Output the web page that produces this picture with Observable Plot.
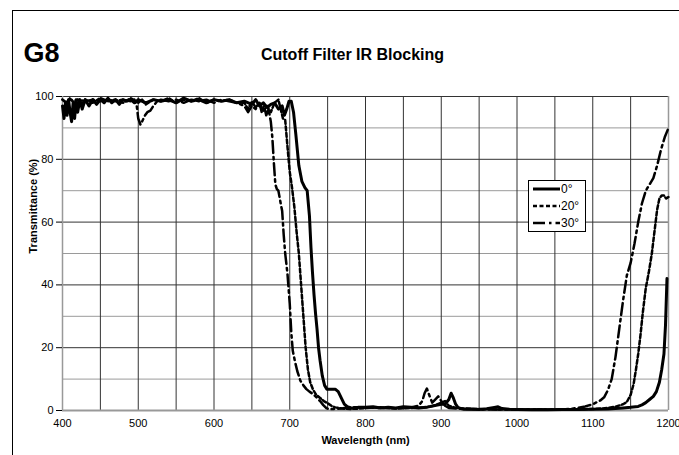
<!DOCTYPE html>
<html>
<head>
<meta charset="utf-8">
<script src="https://cdn.jsdelivr.net/npm/d3@7"></script>
<script src="https://cdn.jsdelivr.net/npm/@observablehq/plot@0.6"></script>
<style>
  html, body { margin: 0; padding: 0; background: #fff; }
  #wrap { position: relative; width: 679px; height: 455px; overflow: hidden; background: #fff; font-family: "Liberation Sans", Arial, sans-serif; color: #000; }
  #frame { position: absolute; left: 12px; top: 10px; width: 700px; height: 460px; border-top: 1.5px solid #000; border-left: 1.5px solid #000; }
  #chart { position: absolute; left: 0; top: 0; }
  #legend { position: absolute; left: 528px; top: 180px; width: 56px; height: 50px; border: 1px solid #000; background: #fff; font-size: 12px; }
  .row { position: absolute; left: 4px; height: 14px; display: flex; align-items: center; }
  .row span { margin-left: 1px; }
</style>
</head>
<body>
<div id="wrap">
  <div id="frame"></div>
  <div id="chart"></div>
  <div id="legend"></div>
</div>
<script>
// ---- data ----
const seriesNames = ["0°", "20°", "30°"];
const xTicks = [400, 500, 600, 700, 800, 900, 1000, 1100, 1200];
const yTicks = [0, 20, 40, 60, 80, 100];
const titleMain = "Cutoff Filter IR Blocking";
const titleCode = "G8";
const xLabel = "Wavelength (nm)";
const yLabel = "Transmittance (%)";

const wl0 = [400,402,404,406,408,410,412,414,416,418,420,423,426,430,435,440,445,450,455,460,465,470,475,480,485,490,495,500,510,520,530,540,550,560,570,580,590,600,610,620,630,640,650,655,660,665,670,675,680,685,690,693,696,699,702,705,708,712,716,720,723,726,728,730,732,734,736,738,740,743,746,749,755,760,764,768,772,776,780,785,790,800,810,820,830,840,850,860,870,880,890,900,905,910,913,916,919,922,926,930,940,950,960,970,975,980,990,1000,1020,1040,1060,1080,1100,1120,1140,1150,1160,1165,1170,1175,1180,1184,1188,1191,1194,1196,1198,1200];
const t0  = [97,93,98,94,99,95,92,98,93,99,95,99,96,99,97,99,97.5,99,98,99.5,98,99,97.5,99,98.5,99,98,99,98,99,98.5,99,98,99.5,98.5,99,98,99,98.5,99,98,98.5,97.5,99,97,98,96.5,97.5,98,96,97,94,96,98.5,98.5,95,88,78,73,71,70,62,52,44,37,31,26,20,16,11,8,6.8,6.8,6.8,6,4,2,1.2,0.9,0.8,1,1,1.2,0.8,1,0.8,1.2,1,0.8,1,1.5,2,2,3.5,5.5,4,2,1,0.6,0.4,0.5,0.3,0.6,1,1.2,0.6,0.4,0.3,0.2,0.2,0.3,0.3,0.4,0.5,0.8,1,1.3,1.8,2.5,3.5,4.5,6,9,13,18,27,42];

const wl20 = [400,405,410,415,420,425,430,440,450,460,470,480,490,500,505,510,520,530,540,550,560,570,580,590,600,610,620,630,640,645,650,655,660,665,670,675,680,685,688,691,694,697,700,703,706,709,712,715,718,721,724,727,731,735,740,745,750,755,760,770,780,790,800,820,840,860,880,890,900,905,910,920,940,960,980,1000,1020,1040,1060,1080,1100,1110,1120,1130,1140,1145,1150,1154,1157,1160,1163,1166,1170,1174,1178,1182,1185,1188,1191,1194,1197,1200];
const t20  = [99,98,99.5,98,99,97.5,99,98,99.5,98.5,99,98,99.5,98,99,97.5,99,98.5,99.5,98,99,98.5,99.5,98,99,98.5,99,98,98,96,98.5,96.5,98,95.5,97,95,98,99,96,93,92.5,84,76,71,65,57,50,40,30,20,13,9,6.5,5,4,3,2.3,1.5,1,0.6,0.5,0.6,0.8,1,0.6,0.8,1,1.5,2.5,3,1.5,0.8,0.5,0.4,0.3,0.3,0.3,0.3,0.3,0.4,0.5,0.6,0.8,1.2,2,2.7,5,8.5,13,18,24,31,39,44,50,58,64,67.5,68.5,68.5,67.5,68];

const wl30 = [400,405,410,415,420,430,440,450,460,470,480,490,495,498,500,503,506,509,512,516,520,525,530,540,550,560,570,580,590,600,610,620,630,640,645,650,655,660,663,666,669,672,675,677,679,681,683,685,688,690,692,694,697,700,702,704,707,710,714,718,722,726,731,736,740,744,748,752,760,770,780,800,820,840,860,870,875,878,881,884,888,892,896,900,905,910,920,940,960,980,1000,1020,1040,1060,1070,1080,1090,1100,1105,1110,1115,1120,1125,1130,1135,1140,1145,1150,1155,1160,1165,1170,1175,1180,1185,1190,1195,1200];
const t30  = [99,98,99,98.5,99,98.5,99,98.5,99,98.5,99,98.5,99,97,93,91,92.5,94,95,95.5,97,98.5,99,98.5,99,98,99,98.5,99,98,99,98.5,98,97,95,97,96,98,95,97,94,96,92,87,79,72,70.5,70,66,63.5,56,50,43.5,34,25,19,15.5,12.5,9.5,8,6.8,6,5.2,4,3,1.8,0.8,0.4,0.5,0.7,1,1,0.8,0.7,1,1.5,3,5.5,7,5,2.5,3.5,4.5,3,1.5,0.8,0.6,0.4,0.3,0.3,0.3,0.3,0.3,0.3,0.5,0.8,1.3,2,2.6,3.2,4.2,6.5,10,17,26,35,43,47,53,60,66,70,72,74,78,83,87,90];

const dashes = [null, "4,2.5", "12,4,2.5,4"];
const widths = [3, 2.5, 2.5];

const rows = [];
[[wl0, t0], [wl20, t20], [wl30, t30]].forEach(([w, t], i) => {
  w.forEach((x, j) => rows.push({series: seriesNames[i], x, y: t[j]}));
});

const gridX = d3.range(450, 1200, 50);
const gridYDark = [20, 40, 60, 80, 100];
const gridYLight = [10, 30, 50, 70, 90];

const lineMarks = seriesNames.map((s, i) => Plot.line(rows.filter(r => r.series === s), {
  x: "x", y: "y", stroke: "#000", strokeWidth: widths[i],
  strokeDasharray: dashes[i] || undefined, strokeLinejoin: "round"
}));

const chart = Plot.plot({
  width: 679,
  height: 455,
  marginLeft: 62,
  marginRight: 11,
  marginTop: 96,
  marginBottom: 45,
  style: {fontFamily: "'Liberation Sans', Arial, sans-serif", fontSize: "11px", color: "#000", background: "transparent"},
  x: {domain: [400, 1200]},
  y: {domain: [0, 100]},
  marks: [
    Plot.ruleY(gridYLight, {stroke: "#9a9a9a", strokeWidth: 1}),
    Plot.ruleX(gridX, {stroke: "#333", strokeWidth: 1}),
    Plot.ruleY(gridYDark, {stroke: "#333", strokeWidth: 1}),
    Plot.ruleX([400, 1200], {stroke: "#999", strokeWidth: 1.5}),
    Plot.ruleY([0], {stroke: "#999", strokeWidth: 2}),
    Plot.axisX({ticks: xTicks, tickSize: 0, tickPadding: 9, tickFormat: d => String(d), label: null, fontSize: 11}),
    Plot.axisY({ticks: yTicks, tickSize: 6, tickPadding: 3, tickFormat: d => String(d), label: null, fontSize: 11}),
    ...lineMarks,
    Plot.text([xLabel], {text: d => d, frameAnchor: "bottom", dy: 33, fontWeight: "bold", fontSize: 11}),
    Plot.text([yLabel], {text: d => d, frameAnchor: "left", dx: -29, rotate: -90, fontWeight: "bold", fontSize: 11}),
    Plot.text([titleCode], {text: d => d, frameAnchor: "top-left", dx: -39, dy: -54, textAnchor: "start", fontWeight: "bold", fontSize: 27}),
    Plot.text([titleMain], {text: d => d, frameAnchor: "top", dx: -13, dy: -48, fontWeight: "bold", fontSize: 16})
  ]
});
document.getElementById("chart").appendChild(chart);

// legend
const legend = document.getElementById("legend");
const rowTops = [1, 18, 35];
seriesNames.forEach((s, i) => {
  const row = document.createElement("div");
  row.className = "row";
  row.style.top = rowTops[i] + "px";
  const svg = d3.create("svg").attr("width", 27).attr("height", 14);
  svg.append("line").attr("x1", 0).attr("x2", 27).attr("y1", 7).attr("y2", 7)
    .attr("stroke", "#000").attr("stroke-width", widths[i])
    .attr("stroke-dasharray", dashes[i] || null);
  row.appendChild(svg.node());
  const label = document.createElement("span");
  label.textContent = s;
  row.appendChild(label);
  legend.appendChild(row);
});
</script>
</body>
</html>
